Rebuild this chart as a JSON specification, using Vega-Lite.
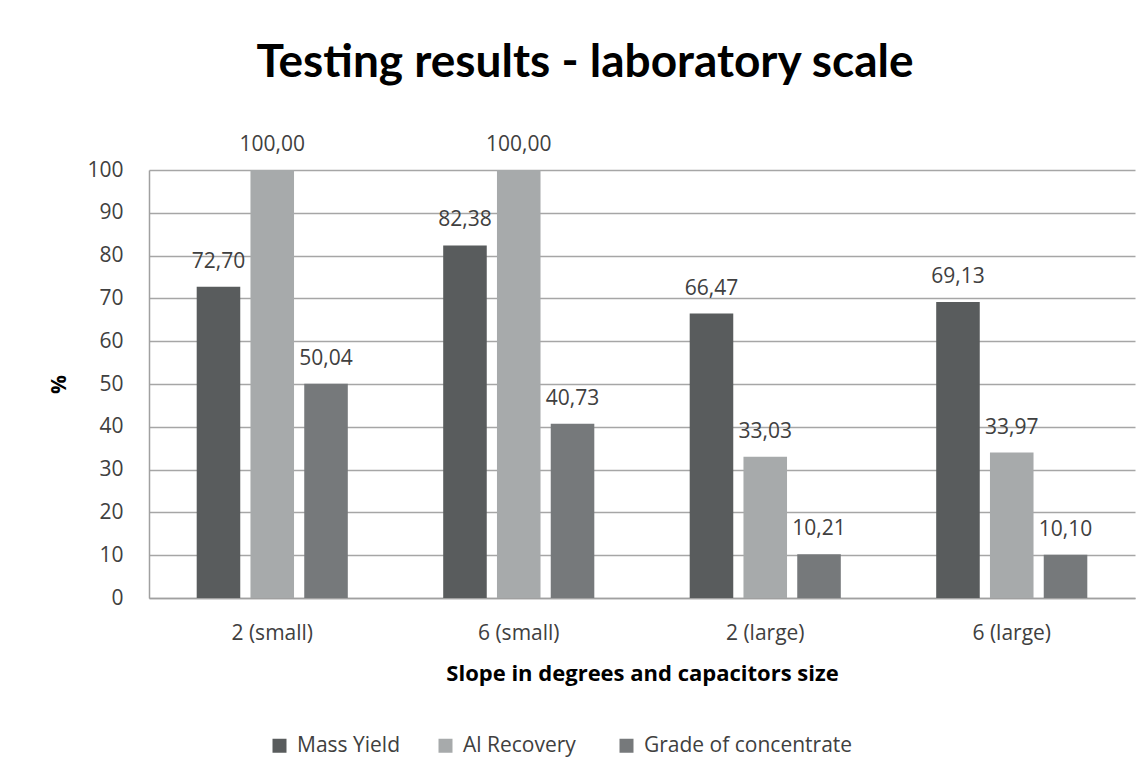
{
  "$schema": "https://vega.github.io/schema/vega-lite/v6.json",
  "width": 986,
  "height": 428,
  "autosize": {"type": "none"},
  "padding": {"left": 149, "top": 170, "right": 13, "bottom": 182},
  "background": "white",
  "config": {
    "locale": {"number": {"decimal": ",", "thousands": ".", "grouping": [3], "currency": ["", " €"]}},
    "view": {"stroke": null},
    "font": "Open Sans"
  },
  "title": {
    "text": "Testing results - laboratory scale",
    "font": "Lato",
    "fontSize": 46,
    "fontWeight": "bold",
    "color": "#000000",
    "anchor": "middle",
    "frame": "group",
    "dx": -57,
    "offset": 47
  },
  "data": {
    "values": [
      {"slope": "2 (small)", "series": "Mass Yield", "value": 72.70},
      {"slope": "2 (small)", "series": "Al  Recovery", "value": 100.00},
      {"slope": "2 (small)", "series": "Grade of concentrate", "value": 50.04},
      {"slope": "6 (small)", "series": "Mass Yield", "value": 82.38},
      {"slope": "6 (small)", "series": "Al  Recovery", "value": 100.00},
      {"slope": "6 (small)", "series": "Grade of concentrate", "value": 40.73},
      {"slope": "2 (large)", "series": "Mass Yield", "value": 66.47},
      {"slope": "2 (large)", "series": "Al  Recovery", "value": 33.03},
      {"slope": "2 (large)", "series": "Grade of concentrate", "value": 10.21},
      {"slope": "6 (large)", "series": "Mass Yield", "value": 69.13},
      {"slope": "6 (large)", "series": "Al  Recovery", "value": 33.97},
      {"slope": "6 (large)", "series": "Grade of concentrate", "value": 10.10}
    ]
  },
  "encoding": {
    "x": {
      "field": "slope",
      "type": "nominal",
      "sort": ["2 (small)", "6 (small)", "2 (large)", "6 (large)"],
      "scale": {"paddingInner": 0.387, "paddingOuter": 0.1935},
      "axis": {
        "title": "Slope in degrees and capacitors size",
        "titleFont": "Open Sans",
        "titleFontSize": 22,
        "titleFontWeight": "bold",
        "titleColor": "#000000",
        "titlePadding": 20,
        "labelAngle": 0,
        "labelFontSize": 21,
        "labelColor": "#404040",
        "labelPadding": 24,
        "ticks": false,
        "domainColor": "#a0a0a0",
        "domainWidth": 1.5
      }
    },
    "xOffset": {
      "field": "series",
      "sort": ["Mass Yield", "Al  Recovery", "Grade of concentrate"],
      "scale": {"paddingInner": 0.19, "paddingOuter": 0}
    },
    "y": {
      "field": "value",
      "type": "quantitative",
      "scale": {"domain": [0, 100]},
      "axis": {
        "title": "%",
        "titleFontSize": 21,
        "titleFontWeight": "bold",
        "titleColor": "#000000",
        "titleX": -80,
        "titleY": 214,
        "values": [0, 10, 20, 30, 40, 50, 60, 70, 80, 90, 100],
        "labelFontSize": 21,
        "labelColor": "#404040",
        "labelPadding": 26,
        "ticks": false,
        "domainColor": "#a0a0a0",
        "domainWidth": 1.5,
        "gridColor": "#a6a6a6",
        "gridWidth": 1.5
      }
    }
  },
  "layer": [
    {
      "mark": {"type": "bar"},
      "encoding": {
        "color": {
          "field": "series",
          "type": "nominal",
          "scale": {
            "domain": ["Mass Yield", "Al  Recovery", "Grade of concentrate"],
            "range": ["#595c5d", "#a7aaab", "#76797b"]
          },
          "legend": {
            "title": null,
            "orient": "none",
            "direction": "horizontal",
            "legendX": 120,
            "legendY": 565,
            "symbolType": "square",
            "symbolSize": 196,
            "symbolStrokeWidth": 0,
            "labelFontSize": 21,
            "labelColor": "#404040",
            "labelLimit": 400,
            "labelOffset": 7,
            "columnPadding": 34
          }
        }
      }
    },
    {
      "mark": {"type": "text", "baseline": "alphabetic", "dy": -19, "fontSize": 21, "color": "#404040"},
      "encoding": {
        "text": {"field": "value", "type": "quantitative", "format": ".2f"}
      }
    }
  ]
}
